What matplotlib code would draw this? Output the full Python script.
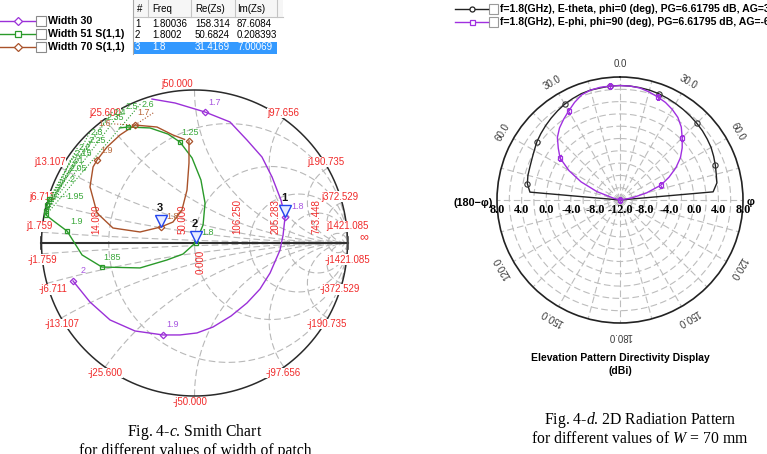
import numpy as np
import matplotlib
matplotlib.use("Agg")
import matplotlib.pyplot as plt
from matplotlib.patches import Rectangle
from matplotlib.transforms import offset_copy

plt.rcParams['font.family'] = ['Liberation Sans', 'DejaVu Sans']
plt.rcParams['mathtext.fontset'] = 'custom'
plt.rcParams['mathtext.rm'] = 'Liberation Serif'
plt.rcParams['mathtext.it'] = 'Liberation Serif:italic'

W, H = 767, 454

# ---------------- Smith chart data ----------------
Z0 = 50.0
res_labels = ["14.080", "50.000", "106.250", "205.283", "743.448"]
react_labels = ["1.759", "6.711", "13.107", "25.600", "50.000",
                "97.656", "190.735", "372.529", "1421.085"]

series_names = ["Width 30", "Width 51 S(1,1)", "Width 70 S(1,1)"]

w30_re = [-0.278, -0.127, 0.069, 0.232, 0.343, 0.441, 0.507, 0.565, 0.592, 0.579,
          0.559, 0.494, 0.428, 0.343, 0.239, 0.121, 0.016, -0.095, -0.206, -0.389,
          -0.552, -0.683, -0.794]
w30_im = [0.941, 0.915, 0.856, 0.791, 0.673, 0.562, 0.431, 0.281, 0.172, 0.052,
          -0.046, -0.196, -0.301, -0.392, -0.477, -0.549, -0.588, -0.601, -0.601, -0.575,
          -0.503, -0.386, -0.248]
w30_marks = [2, 8, 18, 22]
w30_marklabels = ["1.7", "", "1.9", "2"]

w51_re = [-0.490, -0.435, -0.291, -0.173, -0.095, -0.016, 0.042, 0.069, 0.056, 0.007,
          -0.075, -0.180, -0.356, -0.605, -0.735, -0.833, -0.912, -0.971, -0.968, -0.962, -0.950]
w51_im = [0.752, 0.758, 0.752, 0.712, 0.660, 0.556, 0.412, 0.261, 0.118, 0.002,
          -0.072, -0.111, -0.163, -0.157, -0.078, 0.078, 0.137, 0.183, 0.212, 0.250, 0.290]
w51_marks = [1, 4, 9, 13, 15, 17, 18, 19, 20]
w51_marklabels = ["", "1.25", "", "1.85", "1.9", "", "", "", ""]

w70_re = [-0.036, -0.036, -0.049, -0.082, -0.141, -0.219, -0.356, -0.533, -0.637, -0.683,
          -0.663, -0.637, -0.572, -0.487, -0.389, -0.245, -0.141, -0.065]
w70_im = [0.667, 0.523, 0.346, 0.216, 0.137, 0.105, 0.072, 0.098, 0.196, 0.366,
          0.497, 0.542, 0.627, 0.706, 0.771, 0.758, 0.706, 0.677]
w70_marks = [0, 5, 11, 14]
w70_marklabels = ["", "", "1.9", ""]

# stacked sweep labels near the short-circuit end
w51_stack_lbl = ["2.6", "2.5", "2.4", "2.35", "2.3", "2.25", "2.2", "2.15", "2.1", "2.05", "2", "1.95"]
w51_stack_re = [-0.304, -0.408, -0.487, -0.520, -0.637, -0.637, -0.716, -0.729, -0.761, -0.761, -0.801, -0.781]
w51_stack_im = [0.908, 0.889, 0.856, 0.817, 0.719, 0.667, 0.621, 0.582, 0.542, 0.490, 0.412, 0.307]
w70_stack_lbl = ["1.7", "1.6"]
w70_stack_re = [-0.330, -0.585]
w70_stack_im = [0.850, 0.778]

# marker table
mk_id = ["1", "2", "3"]
mk_freq = [1.80036, 1.8002, 1.8]
mk_re = [158.314, 50.6824, 31.4169]
mk_im = [87.6084, 0.208393, 7.00069]

# ---------------- radiation pattern data ----------------
pat_theta_e = list(range(-85, 90, 5))
pat_gain_e = [2.7, 3.3, 3.5, 3.6, 3.8, 4.1, 4.5, 4.8, 5.1, 5.4, 5.7, 6.0, 6.2, 6.4, 6.5, 6.5,
              6.6, 6.62, 6.6, 6.55, 6.5, 6.4, 6.25, 6.1, 5.95, 5.8, 5.65, 5.5, 5.3, 5.1,
              4.8, 4.5, 4.2, 4.0, 3.2]
pat_theta_h = list(range(-90, 95, 5))
pat_gain_h = [-12, -12, -12, -11, -8.0, -5.0, -2.4, -0.1, 1.1, 2.4, 3.3, 4.0, 4.7, 5.5, 6.2,
              6.5, 6.6, 6.6, 6.6, 6.6, 6.5, 6.2, 5.85, 5.5, 5.0, 4.4, 3.5, 2.3, 1.2, 0.0,
              -1.5, -3.2, -4.9, -7.5, -10.0, -12, -12]
pat_names = ["f=1.8(GHz), E-theta, phi=0 (deg), PG=6.61795 dB, AG=3",
             "f=1.8(GHz), E-phi, phi=90 (deg), PG=6.61795 dB, AG=-6"]
r_ticks = [8, 4, 0, -4, -8]
ang_ticks = [0, 30, 60, 120, 150, 180, -30, -60, -120, -150]

# ---------------- colours ----------------
c_pur, c_grn, c_brn = '#9b30d8', '#2a9a2a', '#a9522a'
l_pur, l_grn, l_brn = '#a855e0', '#3aa83a', '#b8683a'
red = '#f02a2a'

fig = plt.figure(figsize=(W / 100, H / 100), dpi=100)
fig.patch.set_facecolor('white')

# ================= Smith chart =================
cx, cy, R, L = 194.5, 243.0, 153.0, 1.27
ax_s = fig.add_axes([(cx - L * R) / W, (H - (cy + L * R)) / H, 2 * L * R / W, 2 * L * R / H])
ax_s.set_xlim(-L, L)
ax_s.set_ylim(-L, L)
ax_s.axis('off')


def gam(z):
    return (z - 1) / (z + 1)


grid_kw = dict(color='#b8b8b8', lw=0.8, ls=(0, (6, 3)), zorder=0.5)
tt = np.linspace(-np.pi / 2 + 1e-3, np.pi / 2 - 1e-3, 2000)
for s in res_labels:
    r = float(s) / Z0
    g = gam(r + 1j * np.tan(tt))
    ax_s.plot(g.real, g.imag, **grid_kw)
tr = np.linspace(0, np.pi / 2 - 1e-3, 2000)
for s in react_labels:
    x = float(s) / Z0
    for sg in (1, -1):
        g = gam(np.tan(tr) + 1j * sg * x)
        ax_s.plot(g.real, g.imag, **grid_kw)

a = np.linspace(0, 2 * np.pi, 721)
ax_s.plot(np.cos(a), np.sin(a), color='#2a2a2a', lw=1.1, zorder=1)
ax_s.plot([-1, 1], [0, 0], color='#303030', lw=1.5, zorder=1.2)
ax_s.plot([-1, -1], [-0.04, 0.04], color='#303030', lw=1.2, zorder=1.2)
ax_s.plot([1, 1], [-0.04, 0.04], color='#505050', lw=1.2, zorder=1.2)

up_dx = [-2, -5, -11, 0, -17, -1, -2, -2, 0]
lo_dx = [0, 6, 1, 0, -4, -1, -1, -2, 0]
for i, s in enumerate(react_labels):
    x = float(s) / Z0
    for sg, dxl, lab in ((1, up_dx[i], 'j' + s), (-1, lo_dx[i], '-j' + s)):
        g = gam(1j * sg * x)
        ax_s.annotate(lab, (g.real, g.imag), xytext=(dxl, sg * 6), textcoords='offset pixels',
                      ha='center', va='center', color=red, fontsize=7, zorder=2,
                      bbox=dict(fc='white', ec='none', pad=0.2))
for s in res_labels:
    r = float(s) / Z0
    g = (r - 1) / (r + 1)
    ax_s.annotate(s, (g, 0), xytext=(-12, 9), textcoords='offset pixels', rotation=90,
                  ha='center', va='bottom', color=red, fontsize=7, zorder=2)
ax_s.annotate("0.000", (0, 0), xytext=(6, -7), textcoords='offset pixels', rotation=90,
              ha='center', va='top', color=red, fontsize=7, zorder=2)
ax_s.annotate("\u221e", (1, 0), xytext=(16, 6), textcoords='offset pixels',
              ha='center', va='center', color=red, fontsize=9, zorder=2)

curves = [(w30_re, w30_im, w30_marks, w30_marklabels, c_pur, l_pur, 'D'),
          (w51_re, w51_im, w51_marks, w51_marklabels, c_grn, l_grn, 's'),
          (w70_re, w70_im, w70_marks, w70_marklabels, c_brn, l_brn, 'D')]
for re_, im_, mk, ml, col, lcol, m in curves:
    ax_s.plot(re_, im_, color=col, lw=1.0, zorder=3)
    ax_s.plot([re_[k] for k in mk], [im_[k] for k in mk], ls='none', marker=m,
              ms=3.3, mfc='none', mec=col, mew=0.9, zorder=3.5)
    for k, lb in zip(mk, ml):
        if lb:
            ax_s.annotate(lb, (re_[k], im_[k]), xytext=(10, 10), textcoords='offset pixels',
                          ha='center', va='center', color=lcol, fontsize=6.5, zorder=4)

# stacked sweep labels with dotted leaders
for i, (lb, gx, gy) in enumerate(zip(w51_stack_lbl, w51_stack_re, w51_stack_im)):
    k = w51_marks[5 + i % 4]
    ax_s.plot([gx - 0.05, w51_re[k]], [gy, w51_im[k]], ls=':', color=c_grn, lw=0.8, zorder=2.5)
    ax_s.text(gx, gy, lb, color=l_grn, fontsize=6.5, ha='center', va='center', zorder=4)
for lb, gx, gy in zip(w70_stack_lbl, w70_stack_re, w70_stack_im):
    ax_s.plot([gx + 0.06, w70_re[14]], [gy, w70_im[14]], ls=':', color=c_brn, lw=0.8, zorder=2.5)
    ax_s.text(gx, gy, lb, color=l_brn, fontsize=6.5, ha='center', va='center', zorder=4)

# marker triangles
tr_up = offset_copy(ax_s.transData, fig=fig, x=0, y=6, units='dots')
mk_cols = [l_pur, l_grn, l_brn]
for i in range(3):
    g = gam(complex(mk_re[i], mk_im[i]) / Z0)
    ax_s.plot([g.real], [g.imag], marker='v', ms=8, mec='#2244ee', mfc='#e8edff', mew=1.0,
              transform=tr_up, zorder=5)
    ax_s.annotate(mk_id[i], (g.real, g.imag), xytext=(-1, 19), textcoords='offset pixels',
                  ha='center', va='center', fontsize=8, fontweight='bold', color='#111', zorder=5)
    ax_s.annotate(f"{mk_freq[i]:.1f}", (g.real, g.imag), xytext=(12, 10), textcoords='offset pixels',
                  ha='center', va='center', fontsize=6.5, color=mk_cols[i], zorder=5)

# ================= Polar radiation pattern =================
pcx, pcy, pr = 620.0, 200.0, 123.0
ax_p = fig.add_axes([(pcx - pr) / W, (H - (pcy + pr)) / H, 2 * pr / W, 2 * pr / H], projection='polar')
ax_p.set_theta_zero_location('N')
ax_p.set_theta_direction(-1)
ax_p.set_ylim(-12, 8)
ax_p.set_xticks([])
ax_p.set_yticks([])
ax_p.grid(False)
ax_p.spines['polar'].set_color('#222222')
ax_p.spines['polar'].set_linewidth(1.2)

pg_kw = dict(color='#bdbdbd', lw=0.8, ls=(0, (6, 3)), zorder=0.5)
th = np.linspace(0, 2 * np.pi, 721)
for rv in range(-10, 8, 2):
    ax_p.plot(th, np.full_like(th, rv), **pg_kw)
for ang in range(0, 360, 15):
    ax_p.plot([np.deg2rad(ang)] * 2, [-12, 8], **pg_kw)

te = [pat_theta_e[0]] + pat_theta_e + [pat_theta_e[-1]]
ge = [-12] + pat_gain_e + [-12]
ax_p.plot(np.deg2rad(te), ge, color='#222222', lw=1.0, marker='o', ms=3.8, mfc='none',
          mec='#333333', mew=0.8, markevery=slice(2, None, 5), zorder=3)
ax_p.plot(np.deg2rad(pat_theta_h), pat_gain_h, color='#a030e0', lw=1.0, marker='s', ms=3.5,
          mfc='none', mec='#a030e0', mew=0.9, markevery=slice(2, None, 5), zorder=3)

for v in r_ticks:
    for ang in (-90, 90):
        ax_p.annotate(f"{v:.1f}", (np.deg2rad(ang), v), xytext=(0, -10), textcoords='offset pixels',
                      ha='center', va='center', fontsize=8.8, fontweight='bold',
                      family='Liberation Serif', zorder=4)
ax_p.annotate("-12.0", (0, -12), xytext=(0, -10), textcoords='offset pixels', ha='center',
              va='center', fontsize=8.8, fontweight='bold', family='Liberation Serif', zorder=4)
for ang in ang_ticks:
    ax_p.text(np.deg2rad(ang), 10.1, f"{abs(ang)}.0", rotation=-ang, rotation_mode='anchor',
              ha='center', va='center', fontsize=7, color='#3a3a3a')
ax_p.annotate("\u03c6", (np.pi / 2, 8), xytext=(4, -2), textcoords='offset pixels', ha='left',
              va='center', fontsize=8, fontweight='bold')
ax_p.annotate("(180\u2212\u03c6)", (-np.pi / 2, 8), xytext=(-4, -3), textcoords='offset pixels',
              ha='right', va='center', fontsize=7.8, fontweight='bold')

# ================= overlay (legends, table, captions) =================
ax_o = fig.add_axes([0, 0, 1, 1], zorder=10)
ax_o.set_xlim(0, W)
ax_o.set_ylim(H, 0)
ax_o.axis('off')

leg_rows = [21, 34, 47]
leg_style = [(c_pur, 'D'), (c_grn, 's'), (c_brn, 'D')]
for y, name, (col, m) in zip(leg_rows, series_names, leg_style):
    ax_o.plot([0, 35], [y, y], color=col, lw=1.0)
    ax_o.plot([18], [y], marker=m, ms=3.8, mfc='white', mec=col, mew=0.9)
    ax_o.add_patch(Rectangle((36, y - 5), 10, 10, fc='white', ec='#8a8a8a', lw=0.8))
    ax_o.text(48, y, name, fontweight='bold', fontsize=7.7, va='center', ha='left')

# marker table
ax_o.add_patch(Rectangle((133, 0), 150, 17, fc='#f6f6f6', ec='none'))
for xx in [148, 191, 235, 277]:
    ax_o.plot([xx, xx], [0, 17], color='#c4c4c4', lw=0.8)
ax_o.plot([133, 283], [17, 17], color='#c4c4c4', lw=0.8)
ax_o.plot([133, 133], [0, 54], color='#a8a8a8', lw=0.8)
ax_o.add_patch(Rectangle((134, 42), 143, 11.5, fc='#3399ff', ec='none'))
hdr = [("#", 137), ("Freq", 152), ("Re(Zs)", 195), ("Im(Zs)", 237)]
for txt, xx in hdr:
    ax_o.text(xx, 9.5, txt, fontsize=7, va='center', ha='left')
row_y = [24, 35.5, 47.5]
for i in range(3):
    col = 'white' if i == 2 else 'black'
    cells = [(mk_id[i], 135), (str(mk_freq[i]), 152), (str(mk_re[i]), 195), (str(mk_im[i]), 237)]
    for txt, xx in cells:
        ax_o.text(xx, row_y[i], txt, fontsize=7, va='center', ha='left', color=col)

# polar legend
pleg_rows = [9, 22]
pleg_style = [('#222222', 'o'), ('#a030e0', 's')]
for y, name, (col, m) in zip(pleg_rows, pat_names, pleg_style):
    ax_o.plot([455, 488], [y, y], color=col, lw=1.0)
    ax_o.plot([472], [y], marker=m, ms=3.6, mfc='white', mec=col, mew=0.9)
    ax_o.add_patch(Rectangle((489, y - 5), 9, 10, fc='white', ec='#9a9a9a', lw=0.8))
    ax_o.text(500, y, name, fontweight='bold', fontsize=7.6, va='center', ha='left')

ax_o.text(620, 358, "Elevation Pattern Directivity Display", fontweight='bold', fontsize=7.5,
          ha='center', va='center')
ax_o.text(620, 371, "(dBi)", fontweight='bold', fontsize=7.5, ha='center', va='center')

cap_kw = dict(family='Liberation Serif', fontsize=11.3, ha='center', va='center')
ax_o.text(195, 432, "Fig. 4-$c$. Smith Chart", **cap_kw)
ax_o.text(195, 451, "for different values of width of patch", **cap_kw)
ax_o.text(640, 420, "Fig. 4-$d$. 2D Radiation Pattern", **cap_kw)
ax_o.text(640, 439, "for different values of $W$ = 70 mm", **cap_kw)

fig.savefig("out.png", dpi=100, facecolor='white')
